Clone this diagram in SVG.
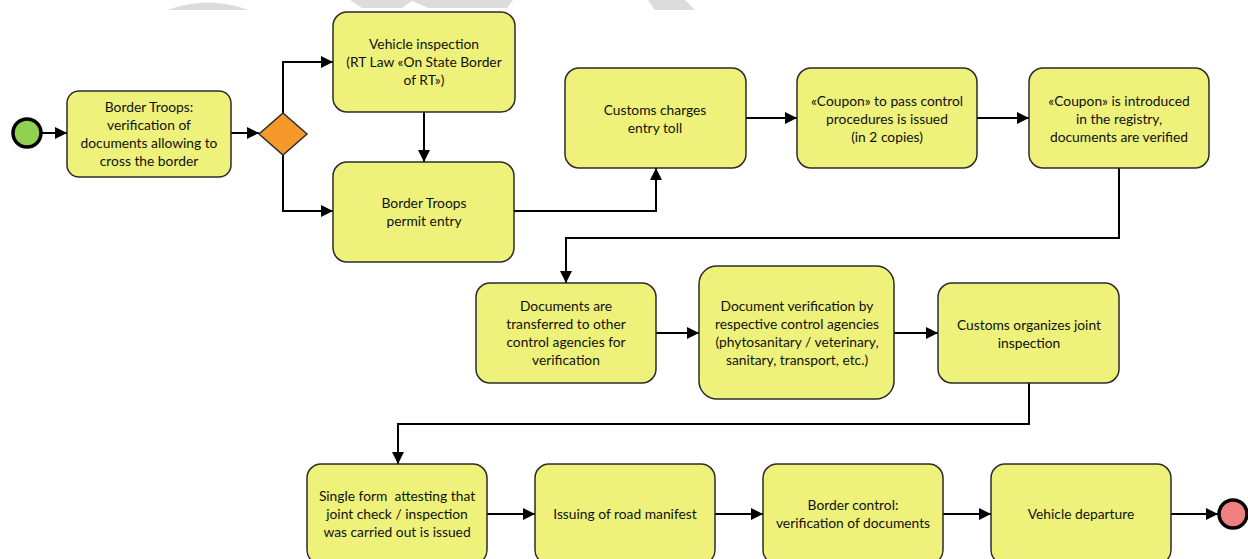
<svg xmlns="http://www.w3.org/2000/svg" width="1248" height="559" viewBox="0 0 1248 559">
  <style>
    .task { fill: #eef27a; stroke: #2b2b2b; stroke-width: 1.5; }
    .lbl { font-family: Lato, "Liberation Sans", sans-serif; font-size: 13.8px; fill: #111; text-anchor: middle; }
    .flow { fill: none; stroke: #000; stroke-width: 2; }
    .mark { fill: #dcdcdc; stroke: none; }
  </style>
  <defs>
    <marker id="arrow" markerUnits="userSpaceOnUse" markerWidth="13" markerHeight="12" refX="12" refY="6" orient="auto">
      <path d="M0,0 L12,6 L0,12 Z" fill="#000"/>
    </marker>
  </defs>

  <rect width="1248" height="559" fill="#fff"/>

  <!-- faint background marks along the top edge -->
  <g id="backdrop">
    <path class="mark" d="M168,10 Q208,-5 248,10 Z"/>
    <polygon class="mark" points="350,0 513,0 507,8 428,8 412,1 402,8 362,8"/>
    <polygon class="mark" points="648,0 685,0 695,10 655,10"/>
  </g>

  <!-- connectors -->
  <g id="connectors">
    <line class="flow" x1="42" y1="133" x2="67" y2="133" marker-end="url(#arrow)"/>
    <line class="flow" x1="231" y1="133" x2="259" y2="133" marker-end="url(#arrow)"/>
    <polyline class="flow" points="283,113 283,62 333,62" marker-end="url(#arrow)"/>
    <polyline class="flow" points="283,155 283,211 333,211" marker-end="url(#arrow)"/>
    <line class="flow" x1="424" y1="112" x2="424" y2="162" marker-end="url(#arrow)"/>
    <polyline class="flow" points="514,211 656,211 656,168" marker-end="url(#arrow)"/>
    <line class="flow" x1="746" y1="118" x2="797" y2="118" marker-end="url(#arrow)"/>
    <line class="flow" x1="977" y1="118" x2="1029" y2="118" marker-end="url(#arrow)"/>
    <polyline class="flow" points="1119,168 1119,238 566,238 566,283" marker-end="url(#arrow)"/>
    <line class="flow" x1="656" y1="333" x2="699" y2="333" marker-end="url(#arrow)"/>
    <line class="flow" x1="894" y1="333" x2="938" y2="333" marker-end="url(#arrow)"/>
    <polyline class="flow" points="1029,383 1029,424 398,424 398,464" marker-end="url(#arrow)"/>
    <line class="flow" x1="487" y1="514" x2="535" y2="514" marker-end="url(#arrow)"/>
    <line class="flow" x1="715" y1="514" x2="763" y2="514" marker-end="url(#arrow)"/>
    <line class="flow" x1="943" y1="514" x2="991" y2="514" marker-end="url(#arrow)"/>
    <line class="flow" x1="1171" y1="514" x2="1218" y2="514" marker-end="url(#arrow)"/>
  </g>

  <!-- events and gateway -->
  <g id="start">
    <circle cx="27" cy="133" r="14" fill="#92d050" stroke="#000" stroke-width="3.5"/>
  </g>
  <g id="gateway">
    <polygon points="283,113 307,134 283,155 259,134" fill="#f7982a" stroke="#2b2b2b" stroke-width="1.5"/>
  </g>
  <g id="end">
    <circle cx="1233" cy="514" r="14" fill="#f08080" stroke="#000" stroke-width="3.5"/>
  </g>

  <!-- tasks -->
  <g id="border-check">
    <rect class="task" x="67" y="91" width="164" height="86" rx="12"/>
    <text class="lbl" x="149" y="112">Border Troops:</text>
    <text class="lbl" x="149" y="130">verification of</text>
    <text class="lbl" x="149" y="148">documents allowing to</text>
    <text class="lbl" x="149" y="166">cross the border</text>
  </g>
  <g id="vehicle-inspection">
    <rect class="task" x="333" y="12" width="182" height="100" rx="14"/>
    <text class="lbl" x="424" y="49">Vehicle inspection</text>
    <text class="lbl" x="424" y="67">(RT Law «On State Border</text>
    <text class="lbl" x="424" y="85">of RT»)</text>
  </g>
  <g id="permit-entry">
    <rect class="task" x="333" y="162" width="181" height="100" rx="14"/>
    <text class="lbl" x="424" y="208">Border Troops</text>
    <text class="lbl" x="424" y="226">permit entry</text>
  </g>
  <g id="entry-toll">
    <rect class="task" x="565" y="68" width="181" height="100" rx="14"/>
    <text class="lbl" x="655" y="115">Customs charges</text>
    <text class="lbl" x="655" y="133">entry toll</text>
  </g>
  <g id="coupon-issued">
    <rect class="task" x="797" y="68" width="180" height="100" rx="14"/>
    <text class="lbl" x="887" y="106">«Coupon» to pass control</text>
    <text class="lbl" x="887" y="124">procedures is issued</text>
    <text class="lbl" x="887" y="142">(in 2 copies)</text>
  </g>
  <g id="coupon-registry">
    <rect class="task" x="1029" y="68" width="180" height="100" rx="14"/>
    <text class="lbl" x="1119" y="106">«Coupon» is introduced</text>
    <text class="lbl" x="1119" y="124">in the registry,</text>
    <text class="lbl" x="1119" y="142">documents are verified</text>
  </g>
  <g id="docs-transferred">
    <rect class="task" x="476" y="283" width="180" height="100" rx="14"/>
    <text class="lbl" x="566" y="311">Documents are</text>
    <text class="lbl" x="566" y="329">transferred to other</text>
    <text class="lbl" x="566" y="347">control agencies for</text>
    <text class="lbl" x="566" y="365">verification</text>
  </g>
  <g id="agency-verification">
    <rect class="task" x="699" y="266" width="195" height="133" rx="18"/>
    <text class="lbl" x="797" y="311">Document verification by</text>
    <text class="lbl" x="797" y="329">respective control agencies</text>
    <text class="lbl" x="797" y="347">(phytosanitary / veterinary,</text>
    <text class="lbl" x="797" y="365">sanitary, transport, etc.)</text>
  </g>
  <g id="joint-inspection">
    <rect class="task" x="938" y="283" width="181" height="100" rx="14"/>
    <text class="lbl" x="1029" y="330">Customs organizes joint</text>
    <text class="lbl" x="1029" y="348">inspection</text>
  </g>
  <g id="single-form">
    <rect class="task" x="307" y="464" width="180" height="100" rx="14"/>
    <text class="lbl" x="397" y="501" xml:space="preserve">Single form  attesting that</text>
    <text class="lbl" x="397" y="519">joint check / inspection</text>
    <text class="lbl" x="397" y="537">was carried out is issued</text>
  </g>
  <g id="road-manifest">
    <rect class="task" x="535" y="464" width="180" height="100" rx="14"/>
    <text class="lbl" x="625" y="519">Issuing of road manifest</text>
  </g>
  <g id="border-control">
    <rect class="task" x="763" y="464" width="180" height="100" rx="14"/>
    <text class="lbl" x="853" y="510">Border control:</text>
    <text class="lbl" x="853" y="528">verification of documents</text>
  </g>
  <g id="departure">
    <rect class="task" x="991" y="464" width="180" height="100" rx="14"/>
    <text class="lbl" x="1081" y="519">Vehicle departure</text>
  </g>
</svg>
